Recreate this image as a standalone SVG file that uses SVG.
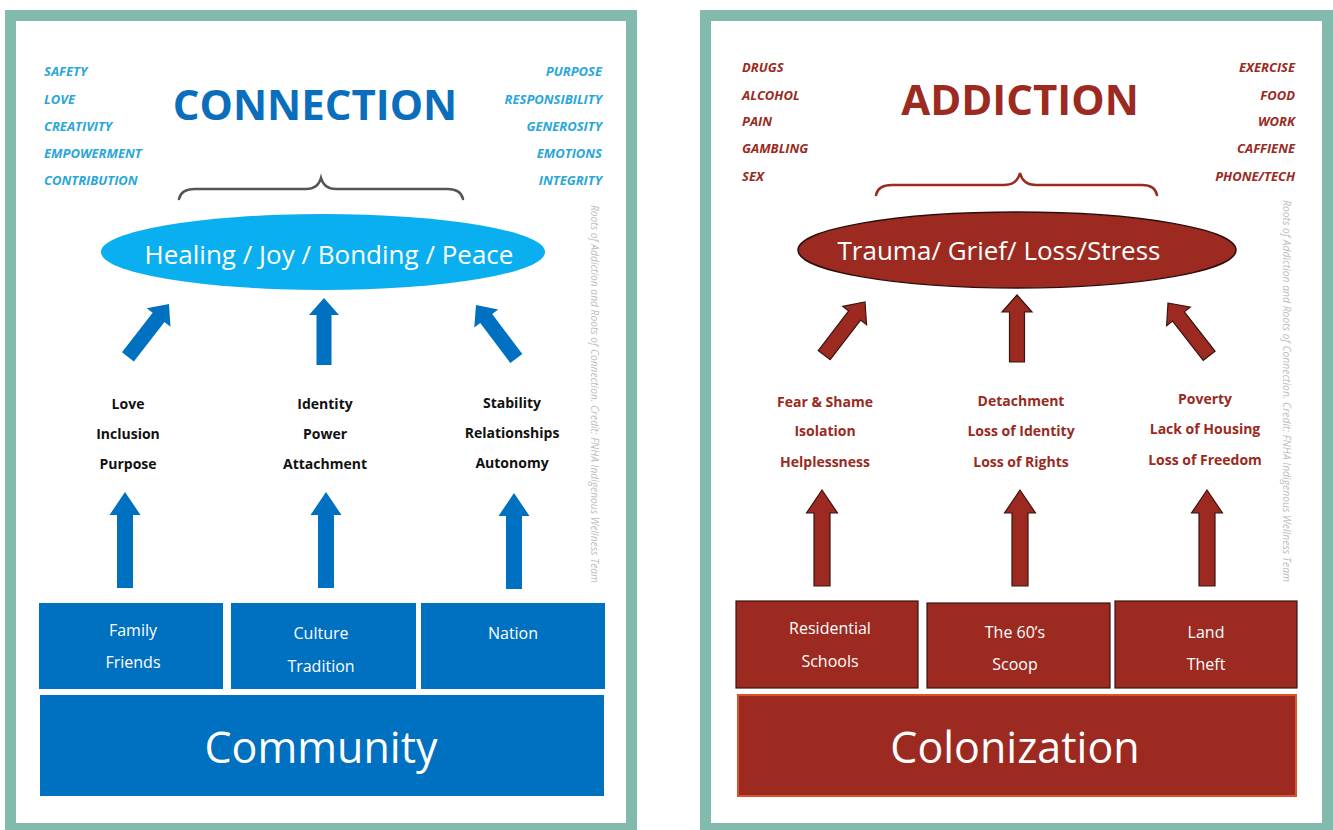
<svg xmlns="http://www.w3.org/2000/svg" xmlns:xlink="http://www.w3.org/1999/xlink" width="1333" height="830" viewBox="0 0 1333 830">
  <style>
    .frame { fill: #ffffff; stroke: #82BBAD; stroke-width: 11; }
    .t { font-family: "Open Sans", "Liberation Sans", sans-serif; }
    .word { font-size: 13px; font-weight: 700; font-style: italic; }
    .wBlue { fill: #2AA6DA; }
    .wRed { fill: #9A2A21; }
    .title { font-size: 42px; font-weight: 700; text-anchor: middle; }
    .oval { font-size: 26px; fill: #ffffff; text-anchor: middle; }
    .lbl { font-size: 14px; font-weight: 700; text-anchor: middle; }
    .box { font-size: 16px; fill: #ffffff; text-anchor: middle; }
    .base { font-size: 43px; fill: #ffffff; text-anchor: middle; }
    .credit { font-size: 10px; font-style: italic; fill: #bdbdbd; }
    .blue { fill: #0070C0; }
    .red { fill: #9C2A21; }
    .redEdge { fill: #9C2A21; stroke: #3a1410; stroke-width: 1.2; }
    .brace { fill: none; stroke-width: 2.5; stroke-linecap: round; }
  </style>
  <defs>
    <!-- block arrows pointing up, tip at the origin -->
    <path id="arrowShort" d="M0,0 L15,17 L7.5,17 L7.5,67 L-7.5,67 L-7.5,17 L-15,17 Z"/>
    <path id="arrowLong" d="M0,0 L15.5,23 L8,23 L8,96 L-8,96 L-8,23 L-15.5,23 Z"/>
  </defs>

  <!-- panel frames -->
  <rect class="frame" x="10.5" y="15.5" width="621" height="813"/>
  <rect class="frame" x="705.5" y="15.5" width="622" height="813"/>

  <!-- ===== Connection panel ===== -->
  <g id="connection-title">
    <text class="t title" x="315" y="120" fill="#0A6EBD">CONNECTION</text>
  </g>
  <g id="connection-values-left" class="t word wBlue">
    <text x="44" y="76">SAFETY</text>
    <text x="44" y="104">LOVE</text>
    <text x="44" y="131">CREATIVITY</text>
    <text x="44" y="158">EMPOWERMENT</text>
    <text x="44" y="185">CONTRIBUTION</text>
  </g>
  <g id="connection-values-right" class="t word wBlue" text-anchor="end">
    <text x="602" y="76">PURPOSE</text>
    <text x="602" y="104">RESPONSIBILITY</text>
    <text x="602" y="131">GENEROSITY</text>
    <text x="602" y="158">EMOTIONS</text>
    <text x="602" y="185">INTEGRITY</text>
  </g>
  <g id="healing">
    <ellipse cx="323" cy="252" rx="222" ry="38" fill="#0AAFEF"/>
    <text class="t oval" x="329" y="264">Healing / Joy / Bonding / Peace</text>
  </g>
  <g id="needs-love" class="t lbl" fill="#111111">
    <text x="128" y="409">Love</text>
    <text x="128" y="439">Inclusion</text>
    <text x="128" y="469">Purpose</text>
  </g>
  <g id="needs-identity" class="t lbl" fill="#111111">
    <text x="325" y="409">Identity</text>
    <text x="325" y="439">Power</text>
    <text x="325" y="469">Attachment</text>
  </g>
  <g id="needs-stability" class="t lbl" fill="#111111">
    <text x="512" y="408">Stability</text>
    <text x="512" y="438">Relationships</text>
    <text x="512" y="468">Autonomy</text>
  </g>
  <g id="family">
    <rect class="blue" x="39" y="603" width="184" height="86"/>
    <text class="t box" x="133" y="636">Family</text>
    <text class="t box" x="133" y="668">Friends</text>
  </g>
  <g id="culture">
    <rect class="blue" x="231" y="603" width="185" height="86"/>
    <text class="t box" x="321" y="639">Culture</text>
    <text class="t box" x="321" y="672">Tradition</text>
  </g>
  <g id="nation">
    <rect class="blue" x="421" y="603" width="184" height="86"/>
    <text class="t box" x="513" y="639">Nation</text>
  </g>
  <g id="community">
    <rect class="blue" x="40" y="695" width="564" height="101"/>
    <text class="t base" x="321" y="763">Community</text>
  </g>
  <text class="t credit" transform="translate(591,205) rotate(90)" textLength="378" lengthAdjust="spacingAndGlyphs">Roots of Addiction and Roots of Connection. Credit: FNHA Indigenous Wellness Team</text>

  <!-- ===== Addiction panel ===== -->
  <g id="addiction-title">
    <text class="t title" x="1020" y="115" fill="#9C2A21">ADDICTION</text>
  </g>
  <g id="addiction-habits-left" class="t word wRed">
    <text x="742" y="72">DRUGS</text>
    <text x="742" y="100">ALCOHOL</text>
    <text x="742" y="126">PAIN</text>
    <text x="742" y="153">GAMBLING</text>
    <text x="742" y="181">SEX</text>
  </g>
  <g id="addiction-habits-right" class="t word wRed" text-anchor="end">
    <text x="1295" y="72">EXERCISE</text>
    <text x="1295" y="100">FOOD</text>
    <text x="1295" y="126">WORK</text>
    <text x="1295" y="153">CAFFIENE</text>
    <text x="1295" y="181">PHONE/TECH</text>
  </g>
  <g id="trauma">
    <ellipse cx="1017" cy="250" rx="219" ry="38" fill="#9C2A21" stroke="#2b0f0c" stroke-width="1.5"/>
    <text class="t oval" x="999" y="260" font-size="25.5">Trauma/ Grief/ Loss/Stress</text>
  </g>
  <g id="wounds-fear" class="t lbl" fill="#9A2A21">
    <text x="825" y="407">Fear &amp; Shame</text>
    <text x="825" y="436">Isolation</text>
    <text x="825" y="467">Helplessness</text>
  </g>
  <g id="wounds-detachment" class="t lbl" fill="#9A2A21">
    <text x="1021" y="406">Detachment</text>
    <text x="1021" y="436">Loss of Identity</text>
    <text x="1021" y="467">Loss of Rights</text>
  </g>
  <g id="wounds-poverty" class="t lbl" fill="#9A2A21">
    <text x="1205" y="404">Poverty</text>
    <text x="1205" y="434">Lack of Housing</text>
    <text x="1205" y="465">Loss of Freedom</text>
  </g>
  <g id="residential-schools">
    <rect class="redEdge" x="736" y="601" width="182" height="87"/>
    <text class="t box" x="830" y="634">Residential</text>
    <text class="t box" x="830" y="667">Schools</text>
  </g>
  <g id="sixties-scoop">
    <rect class="redEdge" x="927" y="603" width="183" height="85"/>
    <text class="t box" x="1015" y="638">The 60’s</text>
    <text class="t box" x="1015" y="670">Scoop</text>
  </g>
  <g id="land-theft">
    <rect class="redEdge" x="1115" y="601" width="182" height="87"/>
    <text class="t box" x="1206" y="638">Land</text>
    <text class="t box" x="1206" y="670">Theft</text>
  </g>
  <g id="colonization">
    <rect x="738" y="695" width="558" height="101" fill="#9C2A21" stroke="#D9542B" stroke-width="2"/>
    <text class="t base" x="1015" y="763">Colonization</text>
  </g>
  <text class="t credit" transform="translate(1283,200) rotate(90)" textLength="382" lengthAdjust="spacingAndGlyphs">Roots of Addiction and Roots of Connection. Credit: FNHA Indigenous Wellness Team</text>

  <!-- ===== connectors ===== -->
  <g id="connectors">
    <path class="brace" stroke="#555555" d="M179,199 Q181,189 195,189 L306,189 Q318,189 321,178 Q324,189 336,189 L447,189 Q461,189 463,199"/>
    <path class="brace" stroke="#9C2A21" d="M876,195 Q878,185 892,185 L1004,185 Q1017,185 1020,173 Q1023,185 1036,185 L1142,185 Q1155,185 1157,195"/>

    <use xlink:href="#arrowShort" class="blue" transform="translate(169,304) rotate(37.8)"/>
    <use xlink:href="#arrowShort" class="blue" transform="translate(324,298)"/>
    <use xlink:href="#arrowShort" class="blue" transform="translate(476,305) rotate(-37)"/>
    <use xlink:href="#arrowLong" class="blue" transform="translate(125,492)"/>
    <use xlink:href="#arrowLong" class="blue" transform="translate(326,492)"/>
    <use xlink:href="#arrowLong" class="blue" transform="translate(514,493)"/>

    <use xlink:href="#arrowShort" class="redEdge" transform="translate(865,302) rotate(37.5)"/>
    <use xlink:href="#arrowShort" class="redEdge" transform="translate(1017,295)"/>
    <use xlink:href="#arrowShort" class="redEdge" transform="translate(1168,303) rotate(-37.9)"/>
    <use xlink:href="#arrowLong" class="redEdge" transform="translate(822,490)"/>
    <use xlink:href="#arrowLong" class="redEdge" transform="translate(1020,490)"/>
    <use xlink:href="#arrowLong" class="redEdge" transform="translate(1207,490)"/>
  </g>
</svg>
